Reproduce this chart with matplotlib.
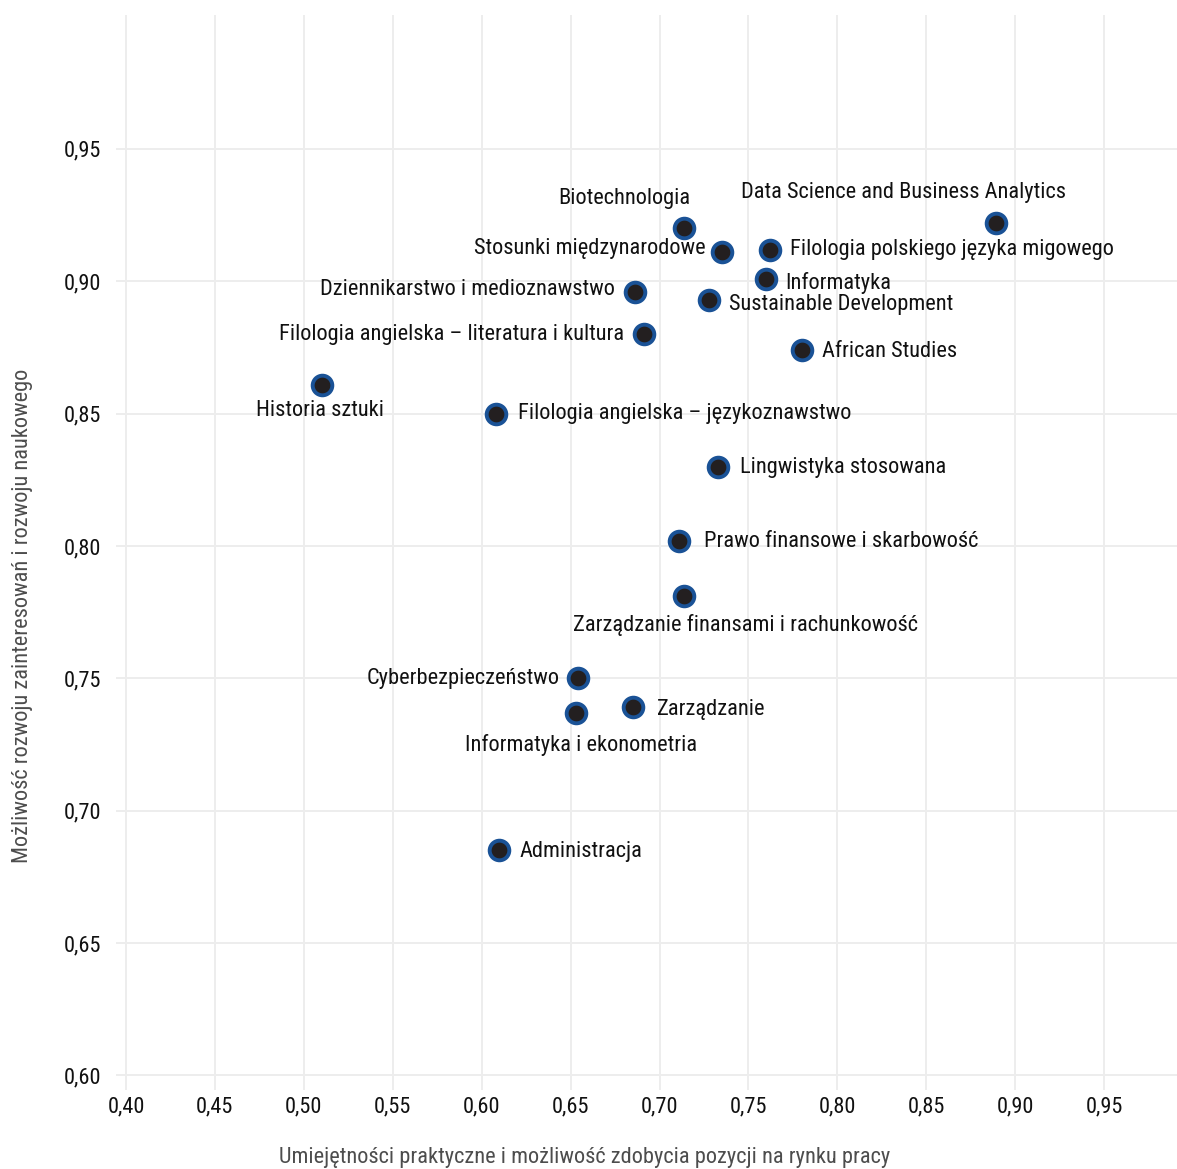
import matplotlib
matplotlib.use("Agg")
from matplotlib import pyplot as plt
from matplotlib import font_manager
from matplotlib.ticker import FuncFormatter

# szukamy waskiej czcionki, jesli jest
dostepne = {f.name for f in font_manager.fontManager.ttflist}
waskie = [n for n in ['Liberation Sans Narrow', 'Arial Narrow', 'Roboto Condensed',
                      'Open Sans Condensed', 'DejaVu Sans Condensed'] if n in dostepne]
if waskie:
    plt.rcParams['font.family'] = [waskie[0], 'Liberation Sans', 'DejaVu Sans']
    rozmiar = 16.1
else:
    plt.rcParams['font.family'] = ['Liberation Sans', 'DejaVu Sans']
    rozmiar = 14.2

# dane
kierunki = [
    "Data Science and Business Analytics",
    "Biotechnologia",
    "Stosunki międzynarodowe",
    "Filologia polskiego języka migowego",
    "Informatyka",
    "Sustainable Development",
    "Dziennikarstwo i medioznawstwo",
    "Filologia angielska – literatura i kultura",
    "African Studies",
    "Historia sztuki",
    "Filologia angielska – językoznawstwo",
    "Lingwistyka stosowana",
    "Prawo finansowe i skarbowość",
    "Zarządzanie finansami i rachunkowość",
    "Cyberbezpieczeństwo",
    "Zarządzanie",
    "Informatyka i ekonometria",
    "Administracja",
]
praktyka = [0.889, 0.714, 0.735, 0.762, 0.760, 0.728, 0.686, 0.691, 0.780,
            0.510, 0.608, 0.733, 0.711, 0.714, 0.654, 0.685, 0.653, 0.610]
nauka = [0.922, 0.920, 0.911, 0.912, 0.901, 0.893, 0.896, 0.880, 0.874,
         0.861, 0.850, 0.830, 0.802, 0.781, 0.750, 0.739, 0.737, 0.685]
x_ticks = [0.40, 0.45, 0.50, 0.55, 0.60, 0.65, 0.70, 0.75, 0.80, 0.85, 0.90, 0.95]
y_ticks = [0.60, 0.65, 0.70, 0.75, 0.80, 0.85, 0.90, 0.95]

# przesuniecia etykiet (piksele) i wyrownanie
przesuniecia = [
    (-92, 31, 'center'), (-60, 30, 'center'), (-16, 4, 'right'), (20, 0, 'left'),
    (19, -4, 'left'), (20, -5, 'left'), (-20, 2, 'right'), (-19, 0, 'right'),
    (20, -1, 'left'), (-2, -26, 'center'), (22, 0, 'left'), (22, -1, 'left'),
    (25, -1, 'left'), (61, -29, 'center'), (-18, 0, 'right'), (24, -2, 'left'),
    (5, -32, 'center'), (20, -1, 'left'),
]

fig = plt.figure(figsize=(11.77, 11.69), dpi=100)
ax = fig.add_axes([0.0986, 0.0676, 0.9014, 0.9196])

ax.scatter(praktyka, nauka, s=200, c='#231f20', edgecolors='#1a5296',
           linewidths=2.8, zorder=3)

for nazwa, x, y, (dx, dy, ha) in zip(kierunki, praktyka, nauka, przesuniecia):
    ax.annotate(nazwa, (x, y), xytext=(dx, dy), textcoords='offset pixels',
                ha=ha, va='center', fontsize=rozmiar, color='#111111', zorder=4)

ax.set_xlim(0.3944, 0.991)
ax.set_ylim(0.5945, 1.0006)
fmt = FuncFormatter(lambda v, p: f"{v:.2f}".replace('.', ','))
ax.xaxis.set_major_formatter(fmt)
ax.yaxis.set_major_formatter(fmt)
ax.set_xticks(x_ticks)
ax.set_yticks(y_ticks)

ax.grid(True, color='#ededed', linewidth=1.4)
ax.set_axisbelow(True)
for s in ax.spines.values():
    s.set_visible(False)
ax.tick_params(length=0, labelsize=rozmiar, colors='#111111')
ax.tick_params(axis='x', pad=5)
ax.tick_params(axis='y', pad=11)

ax.set_xlabel('Umiejętności praktyczne i możliwość zdobycia pozycji na rynku pracy',
              fontsize=rozmiar, color='#4d4d4d', va='center', ha='center')
ax.set_ylabel('Możliwość rozwoju zainteresowań i rozwoju naukowego',
              fontsize=rozmiar, color='#4d4d4d', va='center', ha='center')
ax.xaxis.set_label_coords(585 / 1177, 1 - 1157 / 1169, transform=fig.transFigure)
ax.yaxis.set_label_coords(23 / 1177, 1 - 616 / 1169, transform=fig.transFigure)

fig.savefig('out.png', dpi=100)
